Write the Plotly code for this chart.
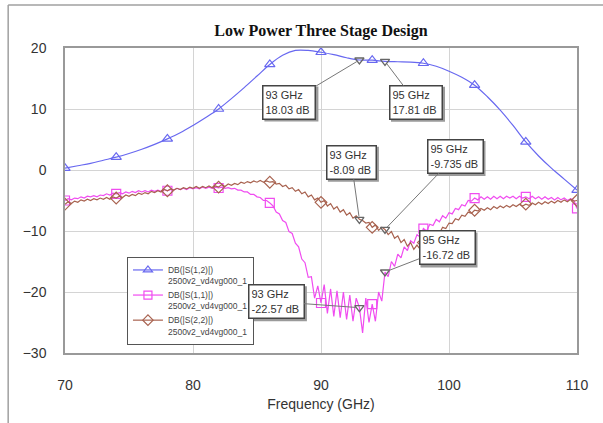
import plotly.graph_objects as go

# ---------------- data ----------------
freq_coarse = list(range(70, 111))  # GHz, 1 GHz steps (S12 trace)
s12_db = [0.3, 0.7, 1.1, 1.6, 2.1, 2.7, 3.4, 4.2, 5.1, 6.1,
          7.3, 8.6, 10.0, 11.7, 13.5, 15.4, 17.3, 18.8, 19.6, 19.6,
          19.3, 18.9, 18.4, 18.03, 18.0, 17.81, 17.75, 17.7, 17.5, 17.0,
          16.2, 15.2, 13.9, 12.0, 9.8, 7.3, 4.6, 2.3, 0.3, -1.5,
          -3.3]

freq_fine = [round(70 + 0.25 * i, 2) for i in range(161)]  # 0.25 GHz steps
s11_db = [
    -5.0, -4.7, -4.9, -4.6,   # 70
    -4.7, -4.4, -4.6, -4.3,   # 71
    -4.4, -4.2, -4.4, -4.1,   # 72
    -4.2, -3.9, -4.1, -3.8,   # 73
    -3.9, -3.7, -3.9, -3.6,   # 74
    -3.8, -3.5, -3.7, -3.4,   # 75
    -3.6, -3.4, -3.6, -3.3,   # 76
    -3.5, -3.3, -3.5, -3.2,   # 77
    -3.4, -3.2, -3.3, -3.0,   # 78
    -3.2, -3.0, -3.2, -2.9,   # 79
    -3.1, -2.9, -3.1, -2.8,   # 80
    -3.0, -2.8, -3.0, -2.8,   # 81
    -2.95, -2.8, -3.0, -2.9,  # 82
    -3.1, -3.0, -3.3, -3.3,   # 83
    -3.6, -3.6, -4.0, -4.0,   # 84
    -4.4, -4.5, -5.0, -5.0,   # 85
    -5.4, -5.9, -6.9, -7.2,   # 86
    -8.3, -8.6, -10.1, -10.4, # 87
    -12.0, -12.6, -14.6, -15.2,  # 88
    -17.6, -17.5, -21.0, -19.0,  # 89
    -21.8, -18.8, -23.5, -19.5,  # 90
    -24.0, -19.8, -24.2, -20.0,  # 91
    -24.5, -20.5, -24.8, -21.0,  # 92
    -22.57, -26.7, -21.0, -25.0, # 93
    -22.0, -24.8, -20.0, -21.5,  # 94
    -16.72, -17.5, -15.0, -15.8, # 95
    -13.8, -14.4, -12.6, -13.2,  # 96
    -11.6, -12.0, -10.6, -11.0,  # 97
    -9.6, -10.0, -8.9, -9.1,     # 98
    -8.1, -8.5, -7.5, -7.9,      # 99
    -7.0, -7.2, -6.3, -6.5,      # 100
    -5.7, -5.9, -5.0, -5.1,      # 101
    -4.6, -4.9, -4.4, -4.8,      # 102
    -4.4, -4.8, -4.3, -4.7,      # 103
    -4.3, -4.7, -4.3, -4.6,      # 104
    -4.3, -4.7, -4.3, -4.6,      # 105
    -4.4, -4.7, -4.3, -4.7,      # 106
    -4.4, -4.8, -4.4, -4.8,      # 107
    -4.5, -4.9, -4.5, -4.9,      # 108
    -4.6, -5.0, -4.7, -5.0,      # 109
    -6.3,                        # 110
]
s22_db = [
    -5.6, -5.2, -5.5, -5.1,   # 70
    -5.3, -4.9, -5.1, -4.8,   # 71
    -5.0, -4.7, -4.9, -4.6,   # 72
    -4.8, -4.5, -4.8, -4.4,   # 73
    -4.6, -4.3, -4.5, -4.1,   # 74
    -4.3, -4.0, -4.2, -3.8,   # 75
    -4.0, -3.7, -3.9, -3.5,   # 76
    -3.7, -3.4, -3.6, -3.2,   # 77
    -3.4, -3.1, -3.3, -3.0,   # 78
    -3.2, -2.9, -3.1, -2.8,   # 79
    -3.0, -2.7, -3.0, -2.7,   # 80
    -2.9, -2.6, -2.9, -2.6,   # 81
    -2.8, -2.4, -2.7, -2.3,   # 82
    -2.5, -2.2, -2.4, -2.0,   # 83
    -2.2, -1.9, -2.1, -1.8,   # 84
    -2.0, -1.7, -2.0, -1.8,   # 85
    -2.0, -1.9, -2.3, -2.2,   # 86
    -2.7, -2.5, -3.1, -2.9,   # 87
    -3.5, -3.2, -3.9, -3.6,   # 88
    -4.4, -4.1, -4.9, -4.6,   # 89
    -5.3, -5.0, -5.9, -5.5,   # 90
    -6.4, -6.0, -6.9, -6.5,   # 91
    -7.4, -7.0, -7.9, -7.5,   # 92
    -8.09, -8.3, -8.7, -8.6,  # 93
    -9.4, -9.0, -9.9, -9.4,   # 94
    -9.735, -10.6, -10.1, -11.2,  # 95
    -10.8, -11.9, -11.4, -12.5,   # 96
    -11.9, -13.0, -12.3, -13.0,   # 97
    -11.9, -12.2, -11.0, -11.3,   # 98
    -10.2, -10.4, -9.4, -9.6,     # 99
    -8.7, -8.8, -8.0, -8.2,       # 100
    -7.4, -7.6, -6.9, -7.1,       # 101
    -6.6, -6.7, -6.3, -6.6,       # 102
    -6.2, -6.5, -6.0, -6.3,       # 103
    -5.9, -6.2, -5.8, -6.1,       # 104
    -5.7, -6.0, -5.6, -5.9,       # 105
    -5.6, -5.8, -5.4, -5.7,       # 106
    -5.3, -5.6, -5.2, -5.5,       # 107
    -5.1, -5.4, -5.0, -5.3,       # 108
    -4.9, -5.2, -4.8, -5.1,       # 109
    -5.0,                         # 110
]

marker_freq = [93, 95]
s12_mk = [18.03, 17.81]
s11_mk = [-22.57, -16.72]
s22_mk = [-8.09, -9.735]

x_ticks = [70, 80, 90, 100, 110]
y_ticks = [20, 10, 0, -10, -20, -30]

names = ["DB(|S(1,2)|)<br>2500v2_vd4vg000_1",
         "DB(|S(1,1)|)<br>2500v2_vd4vg000_1",
         "DB(|S(2,2)|)<br>2500v2_vd4vg000_1"]

# ---------------- style ----------------
C_BLUE = "#6868f0"
C_MAG = "#f04cf0"
C_BRN = "#a8624f"
C_MK = "#666666"
FONT = "Liberation Sans, Arial, sans-serif"

fig = go.Figure()

series = [
    (freq_coarse, s12_db, C_BLUE, "triangle-up-open", 4, names[0], "spline"),
    (freq_fine, s11_db, C_MAG, "square-open", 16, names[1], "linear"),
    (freq_fine, s22_db, C_BRN, "diamond-open", 16, names[2], "linear"),
]
for xs, ys, col, sym, step, name, shape in series:
    fig.add_trace(go.Scatter(x=xs, y=ys, mode="lines", showlegend=False,
                             line=dict(color=col, width=1.2, shape=shape),
                             hoverinfo="skip"))
    fig.add_trace(go.Scatter(x=xs[::step], y=ys[::step], mode="markers",
                             showlegend=False,
                             marker=dict(symbol=sym, size=9, color=col,
                                         line=dict(width=1.2, color=col))))
    fig.add_trace(go.Scatter(x=[None], y=[None], mode="lines+markers",
                             name=name,
                             line=dict(color=col, width=1.2),
                             marker=dict(symbol=sym, size=8, color=col,
                                         line=dict(width=1.2, color=col))))

for mk in (s12_mk, s11_mk, s22_mk):
    fig.add_trace(go.Scatter(x=marker_freq, y=mk, mode="markers",
                             showlegend=False,
                             marker=dict(symbol="triangle-down-open", size=8,
                                         color=C_MK,
                                         line=dict(width=1.3, color=C_MK))))

# marker readout boxes: (freq, value, x-offset px, y-offset px, text width px)
readouts = [
    (marker_freq[0], s12_mk[0], -70, 42, 47),
    (marker_freq[1], s12_mk[1], 31, 41, 47),
    (marker_freq[0], s22_mk[0], -8, -57, 44),
    (marker_freq[1], s22_mk[1], 70, -73, 50),
    (marker_freq[1], s11_mk[1], 62, -24, 50),
    (marker_freq[0], s11_mk[0], -83, -6, 50),
]
BOX_H = 28
PAD = 2
BW = 1.5
for fx, val, ax, ay, w in readouts:
    txt = f"{fx} GHz<br>{val:g} dB"
    ow = w + 2 * PAD + 2 * BW
    oh = BOX_H + 2 * PAD + 2 * BW
    # drop shadow (pixel-sized rectangle anchored at the marked point)
    fig.add_shape(type="rect", xref="x", yref="y",
                  xsizemode="pixel", ysizemode="pixel",
                  xanchor=fx, yanchor=val,
                  x0=ax + 2 - ow / 2, x1=ax + 2 + ow / 2,
                  y0=-(ay + 2) - oh / 2, y1=-(ay + 2) + oh / 2,
                  fillcolor="#9a9a9a", line=dict(width=0), layer="above")
    fig.add_annotation(x=fx, y=val, ax=ax, ay=ay, text=txt,
                       width=w, height=BOX_H,
                       showarrow=True, arrowhead=0, arrowwidth=1,
                       arrowcolor="#777777", standoff=3,
                       align="left", valign="middle", bgcolor="white",
                       bordercolor="#444444", borderwidth=BW, borderpad=PAD,
                       font=dict(family=FONT, size=11, color="#333333"))

# outer frame (top and left edges)
fig.add_shape(type="line", xref="paper", yref="paper",
              x0=-0.111, x1=1.2, y0=1.141, y1=1.141,
              line=dict(color="#a0a0a0", width=1.5))
fig.add_shape(type="line", xref="paper", yref="paper",
              x0=-0.111, x1=-0.111, y0=1.141, y1=-0.3,
              line=dict(color="#a0a0a0", width=1.5))

fig.update_layout(
    width=603, height=423,
    margin=dict(l=65, r=26, t=48, b=70),
    paper_bgcolor="white", plot_bgcolor="white",
    title=dict(text="<b>Low Power Three Stage Design</b>",
               x=0.5, xref="paper", xanchor="center",
               y=1 - 30 / 423, yref="container", yanchor="middle",
               font=dict(family="Liberation Serif, Times New Roman, serif",
                         size=16, color="#111111")),
    legend=dict(x=0.121, y=0.315, xanchor="left", yanchor="top",
                bgcolor="white", bordercolor="#555555", borderwidth=1,
                font=dict(family=FONT, size=8.5, color="#444444"),
                itemwidth=30, valign="top", tracegroupgap=2),
    showlegend=True,
)
fig.update_xaxes(range=[70, 110], tickvals=x_ticks,
                 showgrid=True, gridcolor="#d4d4d4", gridwidth=1,
                 showline=True, linecolor="#999999", linewidth=1.5, mirror=True,
                 zeroline=False, ticks="", ticklabelstandoff=18,
                 tickfont=dict(family=FONT, size=14, color="#333333"),
                 title=dict(text="Frequency (GHz)", standoff=8,
                            font=dict(family=FONT, size=14, color="#333333")))
fig.update_yaxes(range=[-30, 20], tickvals=y_ticks,
                 showgrid=True, gridcolor="#d4d4d4", gridwidth=1,
                 showline=True, linecolor="#999999", linewidth=1.5, mirror=True,
                 zeroline=False, ticks="", ticklabelstandoff=14,
                 tickfont=dict(family=FONT, size=14, color="#333333"))

fig.write_html("out.html", config={"displayModeBar": False},
               post_script="document.body.style.margin='0';"
                           "document.body.style.overflow='hidden';")
